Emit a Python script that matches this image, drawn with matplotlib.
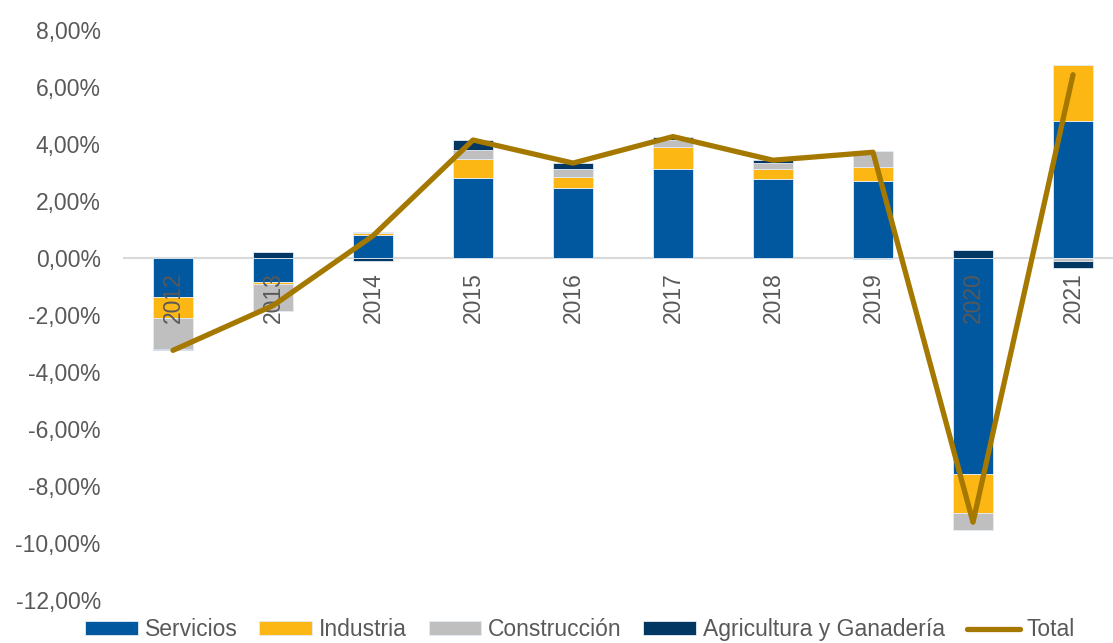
import matplotlib.pyplot as plt
import numpy as np

plt.rcParams['font.family'] = ['Liberation Sans', 'DejaVu Sans']

years = ['2012', '2013', '2014', '2015', '2016', '2017', '2018', '2019', '2020', '2021']
servicios = [-1.37, -0.84, 0.80, 2.80, 2.47, 3.13, 2.76, 2.70, -7.58, 4.82]
industria = [-0.74, -0.08, 0.07, 0.67, 0.36, 0.75, 0.35, 0.49, -1.36, 1.95]
construccion = [-1.09, -0.95, 0.03, 0.32, 0.30, 0.26, 0.23, 0.57, -0.61, -0.10]
agricultura = [-0.04, 0.20, -0.12, 0.35, 0.20, 0.12, 0.09, -0.05, 0.28, -0.24]
total = [-3.24, -1.67, 0.78, 4.14, 3.33, 4.26, 3.43, 3.71, -9.27, 6.43]

series = [
    ('Servicios', servicios, '#01589E'),
    ('Industria', industria, '#FDB714'),
    ('Construcción', construccion, '#BFBFBF'),
    ('Agricultura y Ganadería', agricultura, '#023764'),
]
txt = '#595959'
fs = 16.5

fig = plt.figure(figsize=(11.13, 6.43), dpi=100)
ax = fig.add_axes([123 / 1113, 43 / 643, 990 / 1113, 570 / 643])

x = np.arange(len(years))
pos = np.zeros(len(years))
neg = np.zeros(len(years))
handles = []
for name, vals, col in series:
    v = np.array(vals)
    bottom = np.where(v >= 0, pos, neg)
    b = ax.bar(x, v, 0.4, bottom=bottom, color=col, edgecolor='#e4ecf4',
               linewidth=0.6, label=name, zorder=2)
    handles.append(b)
    pos = pos + np.where(v >= 0, v, 0)
    neg = neg + np.where(v < 0, v, 0)

line, = ax.plot(x, total, color='#A57800', lw=3.8, solid_capstyle='round',
                label='Total', zorder=4)
handles.append(line)

ax.axhline(0, color='#d9d9d9', lw=1.5, zorder=1)

# category labels sit just under the zero line, rotated
for i, y in enumerate(years):
    ax.text(i, -0.5, y, rotation=90, ha='center', va='top', fontsize=fs,
            color=txt, zorder=3)

ax.set_xlim(-0.5, 9.4)
ax.set_ylim(-12, 8)
ax.set_yticks(np.arange(-12, 9, 2))
ax.set_yticklabels([('%.2f%%' % t).replace('.', ',') for t in range(-12, 9, 2)],
                   fontsize=fs, color=txt)
ax.set_xticks([])
ax.tick_params(axis='y', length=0, pad=16)
for s in ax.spines.values():
    s.set_visible(False)

fig.legend(handles=handles, labels=[h.get_label() for h in handles],
           loc='lower center', bbox_to_anchor=(0.521, 0.003), ncol=5,
           frameon=False, fontsize=fs, labelcolor=txt, handlelength=2.3,
           handleheight=0.55, handletextpad=0.3, columnspacing=0.95,
           borderaxespad=0, borderpad=0)

fig.savefig('out.png', dpi=100)
